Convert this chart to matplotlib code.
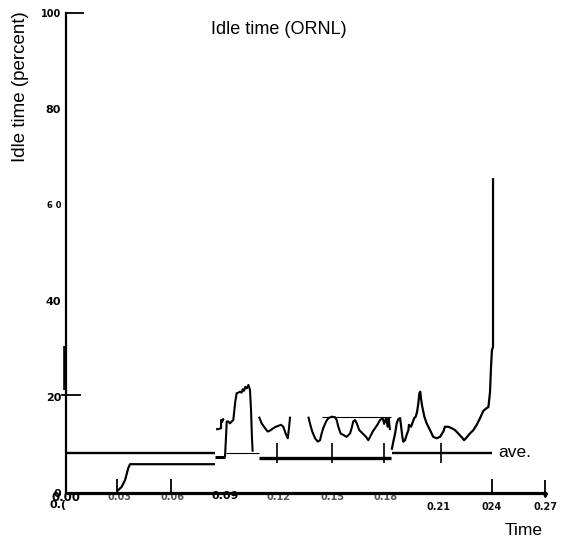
import matplotlib
matplotlib.use("Agg")
import numpy as np
import matplotlib.pyplot as plt

W, H = 561, 540

# ---- data (time, idle time in percent) ----
ave_t1 = [0.0, 0.084]
ave_v1 = [8.3, 8.3]
ave_t2 = [0.1838, 0.2401]
ave_v2 = [8.3, 8.3]
thin_t = [0.0902, 0.1088]
thin_v = [8.4, 8.4]
low_t = [0.0286, 0.0314, 0.0333, 0.0351, 0.0361, 0.084]
low_v = [0.3, 1.3, 2.7, 5.2, 6.0, 6.0]
stub_t = [0.084, 0.0896]
stub_v = [7.6, 7.6]
base_t = [0.1088, 0.1832]
base_v = [7.3, 7.3]
cap_t = [0.1443, 0.183]
cap_v = [15.9, 15.9]

# small piece before the first spike
pre_t = [0.0846, 0.0857, 0.0874, 0.0874, 0.088, 0.0885, 0.089]
pre_v = [13.3, 13.3, 13.5, 15.2, 14.8, 15.4, 15.2]

# first spike
spike_t = [0.0896, 0.0902, 0.0906, 0.0915, 0.0924, 0.0934, 0.0943, 0.0949,
           0.0954, 0.0962, 0.0971, 0.0981, 0.099, 0.0996, 0.1003, 0.1011,
           0.1019, 0.1028, 0.1037, 0.1043, 0.1048, 0.1052]
spike_v = [7.4, 11.7, 14.9, 14.9, 14.5, 14.9, 15.2, 17.3, 19.0, 20.8, 20.9,
           21.1, 20.9, 21.6, 21.3, 22.1, 21.8, 22.5, 21.5, 17.3, 11.7, 8.6]

# middle section (clipped at the top)
mid_t = [0.1088, 0.1103, 0.1122, 0.1137, 0.115, 0.1169, 0.1182, 0.1197,
         0.1212, 0.1225, 0.1238, 0.125, 0.1257, 0.1263, np.nan,
         0.1366, 0.1375, 0.1388, 0.1404, 0.1419, 0.1432, 0.1441, 0.145,
         0.1466, 0.1479, 0.1498, 0.1516, 0.1526, 0.1535, 0.1548, 0.1563,
         0.1582, 0.1601, 0.161, 0.1619, 0.1629, 0.1639, 0.1653, 0.1672,
         0.1691, 0.1704, 0.1714, 0.1729, 0.1742, 0.1755, 0.177, 0.1785,
         0.1793, 0.1804, 0.1813, 0.1819, 0.1826]
mid_v = [15.9, 14.5, 13.5, 12.8, 13.0, 13.5, 13.8, 14.0,
         14.2, 13.8, 12.4, 11.4, 13.5, 15.9, np.nan,
         15.9, 14.5, 12.8, 11.4, 10.7, 11.0, 12.4, 13.5,
         14.9, 15.6, 15.9, 15.8, 15.2, 13.8, 12.4, 12.1,
         11.7, 12.4, 13.5, 14.9, 15.2, 14.5, 13.1, 12.4,
         11.7, 11.0, 11.7, 12.8, 13.5, 14.2, 15.2, 15.6,
         14.4, 15.6, 13.8, 15.6, 13.1]

# last section with the final climb
end_t = [0.1836, 0.1845, 0.1855, 0.1864, 0.1873, 0.1883, 0.1888, 0.1896,
         0.1901, 0.1911, 0.192, 0.193, 0.1933, 0.1945, 0.1952, 0.1963,
         0.1971, 0.1979, 0.1986, 0.1992, 0.1997, 0.2001, 0.2008, 0.202,
         0.2033, 0.2052, 0.207, 0.2089, 0.2108, 0.2127, 0.2136, 0.2155,
         0.2174, 0.2193, 0.2211, 0.2231, 0.2244, 0.2259, 0.2277, 0.2296,
         0.2315, 0.2334, 0.2352, 0.2368, 0.2381, 0.239, 0.2396, 0.2401,
         0.2407, 0.2407]
end_v = [9.0, 10.7, 12.4, 14.5, 15.4, 15.6, 14.2, 11.7,
         10.7, 11.0, 12.1, 13.1, 14.2, 13.8, 14.5, 15.6,
         15.9, 16.9, 18.7, 20.8, 21.1, 19.7, 18.0, 15.9,
         14.5, 13.1, 11.7, 11.4, 11.7, 12.8, 13.8, 13.8,
         13.5, 13.1, 12.4, 11.6, 11.0, 11.6, 12.4, 13.1,
         14.2, 15.6, 17.1, 17.6, 17.9, 21.0, 26.5, 29.8,
         30.4, 65.6]

# little tick marks scattered over the lines
axis_mark_t = [0.029, 0.059, 0.24]
line_mark_t = [0.119, 0.1498, 0.1794, 0.2114]

xticks = [0.0, 0.03, 0.06, 0.09, 0.12, 0.15, 0.18, 0.21, 0.24, 0.27]
xlabels = ["0.00", "0.03", "0.06", "0.09", "0.12", "0.15", "0.18", "0.21", "024", "0.27"]
yticks = [0, 20, 40, 60, 80, 100]
ylabels = ["0", "20", "40", "6 0", "80", "100"]

fig = plt.figure(figsize=(W / 100, H / 100), dpi=100)
ax = fig.add_axes([66 / W, 1 - 493 / H, (545 - 66) / W, 480 / H])
ax.set_xlim(0, 0.27)
ax.set_ylim(0, 100)

for s in ["top", "right"]:
    ax.spines[s].set_visible(False)
ax.spines["bottom"].set_linewidth(2.3)
ax.spines["bottom"].set_zorder(4)
ax.spines["left"].set_linewidth(1.6)

k = dict(color="black", clip_on=False, solid_capstyle="butt")
ax.plot(ave_t1, ave_v1, lw=1.7, **k)
ax.plot(ave_t2, ave_v2, lw=1.7, **k)
ax.plot(thin_t, thin_v, lw=0.8, **k)
ax.plot(low_t, low_v, lw=1.6, **k)
ax.plot(stub_t, stub_v, lw=2.2, **k)
ax.plot(base_t, base_v, lw=2.4, **k)
ax.plot(cap_t, cap_v, lw=0.8, **k)
ax.plot(pre_t, pre_v, lw=1.5, **k)
ax.plot(spike_t, spike_v, lw=1.5, **k)
ax.plot(mid_t, mid_v, lw=1.5, **k)
ax.plot(end_t, end_v, lw=1.6, **k)

ax.vlines(axis_mark_t, 0, 3.0, color="black", lw=1.3, clip_on=False)
ax.vlines([0.27], -0.8, 2.8, color="black", lw=1.3, clip_on=False)
ax.plot([0.27], [-0.5], marker="v", ms=3, color="black", clip_on=False)
ax.vlines(line_mark_t, 6.3, 10.4, color="black", lw=1.2, clip_on=False)
ax.vlines([-0.0006], 21.5, 30.6, color="black", lw=2.6, clip_on=False)
ax.plot([0, 0.0096], [100, 100], color="black", lw=1.3, clip_on=False)
ax.plot([-0.0023, 0.0079], [20.4, 20.4], color="black", lw=1.3, clip_on=False)

# ticks: labels only, with the uneven placement of the scan
ax.set_xticks(xticks, labels=xlabels)
ax.set_yticks(yticks, labels=ylabels)
ax.tick_params(axis="both", length=0)

x_pad = [-1.5, -0.8, -0.8, -1.2, -0.8, -0.8, -0.8, 6.5, 6.5, 6.5]
for tick, lab, p in zip(ax.xaxis.get_major_ticks(), ax.get_xticklabels(), x_pad):
    tick.set_pad(p)
    lab.set_family("DejaVu Sans")
    lab.set_fontweight("bold")
    if lab.get_text() in ("0.00", "0.09"):
        lab.set_fontsize(8.5 if lab.get_text() == "0.00" else 8)
        lab.set_color("black")
    elif lab.get_text() in ("0.21", "024", "0.27"):
        lab.set_fontsize(7)
        lab.set_color("#111111")
    else:
        lab.set_fontsize(7)
        lab.set_color("#555555")

y_size = [8, 8, 8, 6, 8, 7]
for tick, lab, sz in zip(ax.yaxis.get_major_ticks(), ax.get_yticklabels(), y_size):
    tick.set_pad(3.5)
    lab.set_family("DejaVu Sans")
    lab.set_fontweight("bold")
    lab.set_fontsize(sz)

fig.text(58 / W, 1 - 505 / H, "0.(", family="DejaVu Sans", fontweight="bold",
         fontsize=8, ha="center", va="center")

fig.text(279 / W, 1 - 30 / H, "Idle time (ORNL)", family="Liberation Sans",
         fontsize=13, ha="center", va="center")
fig.text(21 / W, 1 - 87 / H, "Idle time (percent)", family="Liberation Sans",
         fontsize=13.5, rotation=90, ha="center", va="center")
fig.text(498 / W, 1 - 457 / H, "ave.", family="Liberation Sans",
         fontsize=12.5, ha="left", va="baseline")
fig.text(524 / W, 1 - 535 / H, "Time", family="Liberation Sans",
         fontsize=12.5, ha="center", va="baseline")

fig.savefig("out.png", dpi=100)
